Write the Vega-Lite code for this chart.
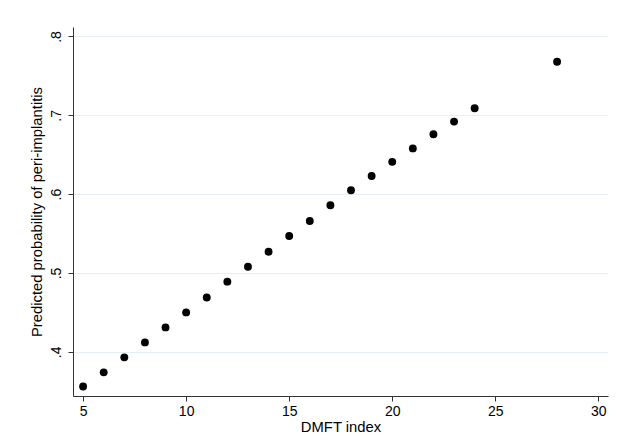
{
  "$schema": "https://vega.github.io/schema/vega-lite/v6.json",
  "width": 535,
  "height": 369,
  "autosize": {"type": "none"},
  "padding": {"left": 73, "top": 27, "right": 12, "bottom": 51},
  "background": "white",
  "config": {
    "view": {"stroke": null},
    "font": "Liberation Sans"
  },
  "data": {
    "values": [
      {"dmft": 5, "p": 0.356},
      {"dmft": 6, "p": 0.374},
      {"dmft": 7, "p": 0.393},
      {"dmft": 8, "p": 0.412},
      {"dmft": 9, "p": 0.431},
      {"dmft": 10, "p": 0.450},
      {"dmft": 11, "p": 0.469},
      {"dmft": 12, "p": 0.489},
      {"dmft": 13, "p": 0.508},
      {"dmft": 14, "p": 0.527},
      {"dmft": 15, "p": 0.547},
      {"dmft": 16, "p": 0.566},
      {"dmft": 17, "p": 0.586},
      {"dmft": 18, "p": 0.605},
      {"dmft": 19, "p": 0.623},
      {"dmft": 20, "p": 0.641},
      {"dmft": 21, "p": 0.658},
      {"dmft": 22, "p": 0.676},
      {"dmft": 23, "p": 0.692},
      {"dmft": 24, "p": 0.709},
      {"dmft": 28, "p": 0.768}
    ]
  },
  "mark": {"type": "point", "filled": true, "color": "black", "opacity": 1, "size": 62},
  "encoding": {
    "x": {
      "field": "dmft",
      "type": "quantitative",
      "scale": {"domain": [4.51, 30.47], "nice": false, "zero": false},
      "axis": {
        "title": "DMFT index",
        "values": [5, 10, 15, 20, 25, 30],
        "grid": false,
        "domainColor": "#333333",
        "tickColor": "#333333",
        "tickSize": 5,
        "labelFontSize": 14,
        "labelColor": "black",
        "labelPadding": 3,
        "titleFontSize": 14.8,
        "titleFontWeight": "normal",
        "titleColor": "black",
        "titlePadding": 1
      }
    },
    "y": {
      "field": "p",
      "type": "quantitative",
      "scale": {"domain": [0.344, 0.812], "nice": false, "zero": false},
      "axis": {
        "title": "Predicted probability of peri-implantitis",
        "values": [0.4, 0.5, 0.6, 0.7, 0.8],
        "labelExpr": "replace(format(datum.value, '.1f'), '0.', '.')",
        "labelAngle": -90,
        "labelAlign": "center",
        "labelBaseline": "bottom",
        "labelPadding": 5,
        "grid": true,
        "gridColor": "#e6eff2",
        "gridWidth": 1,
        "domainColor": "#333333",
        "tickColor": "#333333",
        "tickSize": 5,
        "labelFontSize": 14,
        "labelColor": "black",
        "titleFontSize": 14.8,
        "titleFontWeight": "normal",
        "titleColor": "black",
        "titlePadding": 5
      }
    }
  }
}
